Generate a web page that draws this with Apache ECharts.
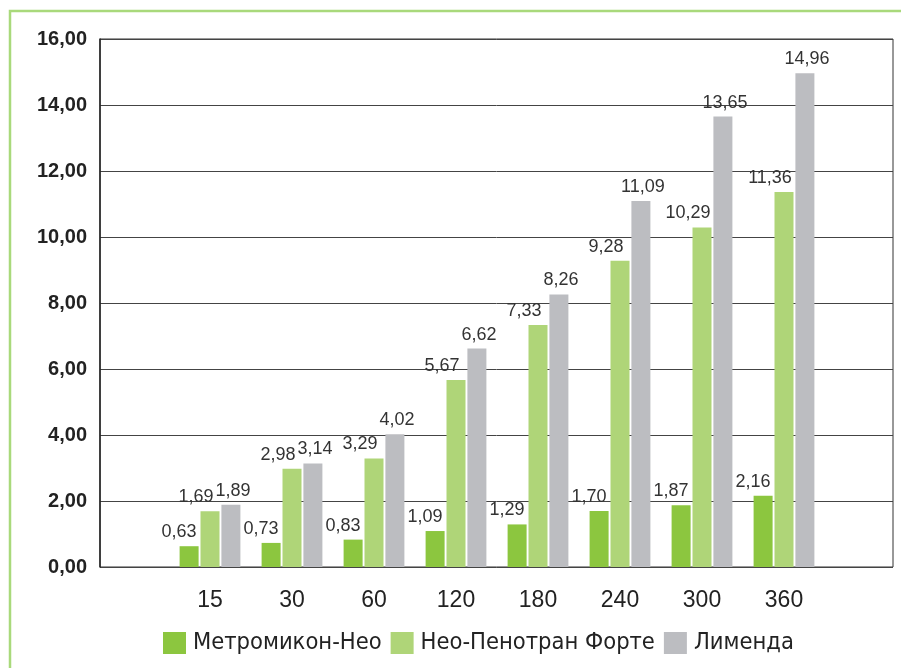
<!DOCTYPE html>
<html>
<head>
<meta charset="utf-8">
<script src="https://cdn.jsdelivr.net/npm/echarts@6/dist/echarts.min.js"></script>
<style>
  html, body { margin: 0; padding: 0; background: #fff; }
  #chart { width: 901px; height: 668px; }
</style>
</head>
<body>
<div id="chart"></div>
<script>
// time points (minutes)
var categories = ['15', '30', '60', '120', '180', '240', '300', '360'];
var seriesNames = ['Метромикон-Нео', 'Нео-Пенотран Форте', 'Лименда'];
var metromikon = [0.63, 0.73, 0.83, 1.09, 1.29, 1.70, 1.87, 2.16];
var neoPenotran = [1.69, 2.98, 3.29, 5.67, 7.33, 9.28, 10.29, 11.36];
var limenda = [1.89, 3.14, 4.02, 6.62, 8.26, 11.09, 13.65, 14.96];
var yMin = 0, yMax = 16, yStep = 2;

var colors = ['#8cc63f', '#afd578', '#bcbdc1'];

function fmt (v) {
  return Number(v).toFixed(2).replace('.', ',');
}

function barSeries (name, data, color, dx) {
  return {
    name: name,
    type: 'bar',
    xAxisIndex: 1,
    yAxisIndex: 1,
    data: data,
    barWidth: 19,
    barGap: '10%',
    itemStyle: { color: color },
    label: {
      show: true,
      position: 'top',
      distance: 5,
      offset: [dx, 0],
      fontFamily: 'Liberation Sans',
      fontSize: 18,
      color: '#333',
      formatter: function (p) { return fmt(p.value); }
    }
  };
}

var myChart = echarts.init(document.getElementById('chart'));
myChart.setOption({
  animation: false,
  textStyle: { fontFamily: 'Liberation Sans' },
  graphic: [{
    type: 'rect',
    shape: { x: 10, y: 11, width: 1200, height: 1200 },
    style: { fill: 'none', stroke: '#a9d97b', lineWidth: 2.5 }
  }],
  grid: [
    { left: 100, right: 8, top: 39, bottom: 101, show: true, borderColor: '#333', borderWidth: 1 },
    { left: 169, right: 76, top: 39, bottom: 101 }
  ],
  xAxis: [
    { type: 'value', gridIndex: 0, show: false, min: 0, max: 1 },
    {
      type: 'category',
      gridIndex: 1,
      data: categories,
      axisLine: { show: false },
      axisTick: { show: false },
      axisLabel: { fontSize: 23, color: '#222', margin: 22 }
    }
  ],
  yAxis: [
    {
      type: 'value',
      gridIndex: 0,
      min: yMin,
      max: yMax,
      interval: yStep,
      axisLine: { show: true, lineStyle: { color: '#222', width: 1.5 } },
      axisTick: { show: false },
      splitLine: { lineStyle: { color: '#444', width: 1 } },
      axisLabel: {
        fontSize: 20,
        fontWeight: 'bold',
        color: '#222',
        margin: 13,
        formatter: fmt
      }
    },
    { type: 'value', gridIndex: 1, min: yMin, max: yMax, interval: yStep, show: false }
  ],
  legend: {
    left: 158,
    top: 626,
    itemWidth: 23,
    itemHeight: 22,
    itemGap: 9,
    icon: 'rect',
    textStyle: { fontFamily: '"DejaVu Sans Condensed", "Liberation Sans", sans-serif', fontSize: 23.5, color: '#222', padding: [0, 0, 0, 2] },
    data: seriesNames
  },
  series: [
    barSeries(seriesNames[0], metromikon, colors[0], -10),
    barSeries(seriesNames[1], neoPenotran, colors[1], -14),
    barSeries(seriesNames[2], limenda, colors[2], 2)
  ]
});
</script>
</body>
</html>
